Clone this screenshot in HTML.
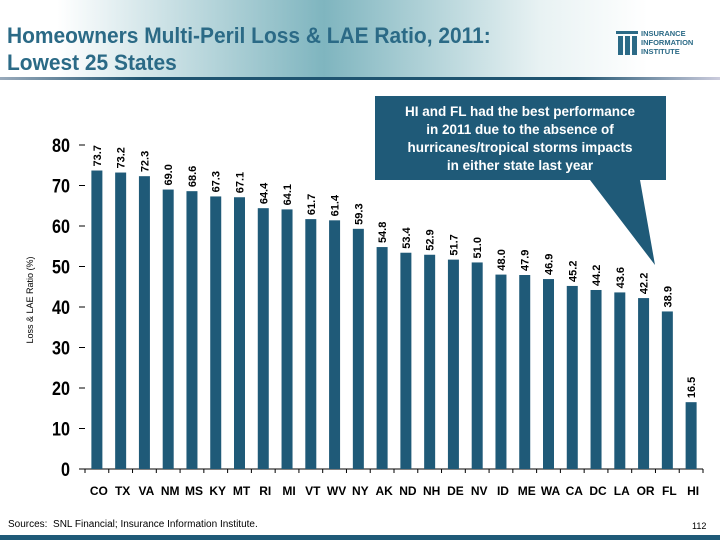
<!DOCTYPE html>
<html><head><meta charset="utf-8"><style>
body{margin:0;width:720px;height:540px;overflow:hidden;background:#fff;font-family:"Liberation Sans",sans-serif;position:relative}
#hdr{position:absolute;left:0;top:0;width:720px;height:78px;background:linear-gradient(90deg,#fff 0%,#fff 8%,#7fb5bf 45%,#e8f2f3 75%,#fff 90%)}
#hline{position:absolute;left:0;top:77px;width:720px;height:3px;background:linear-gradient(90deg,#9ab 0%,#1f5470 20%,#1f5470 80%,#ccd 100%)}
#title{position:absolute;left:7px;top:22px;font-size:22.5px;font-weight:bold;color:#2b6a86;line-height:27px;transform:scaleX(0.93);transform-origin:left}
#logo{position:absolute;left:614px;top:27px;width:100px;height:30px}
#foot{position:absolute;left:0;top:535px;width:720px;height:5px;background:#1f5a78}
#src{position:absolute;left:8px;top:519px;font-size:10px;color:#000}
#pg{position:absolute;left:692px;top:521px;font-size:9px}
</style></head><body>
<div id="hdr"></div>
<div id="hline"></div>
<div id="title">Homeowners Multi-Peril Loss &amp; LAE Ratio, 2011:<br>Lowest 25 States</div>
<svg id="logo" viewBox="0 0 100 30">
<g fill="#2b6a86"><rect x="2" y="4" width="22" height="3"/><rect x="4" y="9" width="5" height="19"/><rect x="11" y="9" width="5" height="19"/><rect x="18" y="9" width="5" height="19"/></g>
<text x="27" y="9" font-size="7.5" font-weight="bold" fill="#2b6a86" font-family="Liberation Sans">INSURANCE</text>
<text x="27" y="18" font-size="7.5" font-weight="bold" fill="#2b6a86" font-family="Liberation Sans">INFORMATION</text>
<text x="27" y="27" font-size="7.5" font-weight="bold" fill="#2b6a86" font-family="Liberation Sans">INSTITUTE</text>
</svg>
<svg id="chart" width="720" height="540" style="position:absolute;left:0;top:0"></svg>
<div id="src">Sources:&nbsp; SNL Financial; Insurance Information Institute.</div>
<div id="pg">112</div>
<div id="foot"></div>
<script>
const categories=["CO","TX","VA","NM","MS","KY","MT","RI","MI","VT","WV","NY","AK","ND","NH","DE","NV","ID","ME","WA","CA","DC","LA","OR","FL","HI"].slice(0,25);
const cats=["CO","TX","VA","NM","MS","KY","MT","RI","MI","VT","WV","NY","AK","ND","NH","DE","NV","ID","ME","WA","CA","DC","LA","OR","FL","HI"];
const values=[73.7,73.2,72.3,69.0,68.6,67.3,67.1,64.4,64.1,61.7,61.4,59.3,54.8,53.4,52.9,51.7,51.0,48.0,47.9,46.9,45.2,44.2,43.6,42.2,38.9,16.5];
const yTicks=[0,10,20,30,40,50,60,70,80];
const NS="http://www.w3.org/2000/svg";
const svg=document.getElementById('chart');
const x0=85,x1=703,yb=469,yt=145,ymax=80;
const step=(x1-x0)/cats.length;
const X=i=>x0+step*(i+0.5);
const Y=v=>yb-(v/ymax)*(yb-yt);
function mk(t,a){const e=document.createElementNS(NS,t);for(const k in a)e.setAttribute(k,a[k]);svg.appendChild(e);return e;}
let ax=mk('line',{x1:x0,y1:yb,x2:x1,y2:yb,stroke:'#000'});


for(let i=0;i<=cats.length;i++){const tk=mk('line',{x1:x0+step*i,y1:yb,x2:x0+step*i,y2:yb+4,stroke:'#000'});}
yTicks.forEach(v=>{
 const tk=mk('line',{x1:x0-6,y1:Y(v),x2:x0,y2:Y(v),stroke:'#000'});
 
 
 const t=mk('text',{x:70,y:Y(v)+7,'text-anchor':'end','font-size':'19','font-weight':'bold','font-family':'Liberation Sans',transform:`translate(70,0) scale(0.85,1) translate(-70,0)`});
 t.textContent=v;
 
 
});
cats.forEach((c,i)=>{
 const v=values[i];
 const b=mk('rect',{x:X(i)-5.5,y:Y(v),width:11,height:yb-Y(v),fill:'#1f5a78'});
 
 
 const vl=mk('text',{x:0,y:0,'font-size':'11','font-weight':'bold','font-family':'Liberation Sans',transform:`translate(${X(i)+4},${Y(v)-4}) rotate(-90)`});
 vl.textContent=v.toFixed(1);
 
 
 const cl=mk('text',{x:X(i)+2,y:495,'text-anchor':'middle','font-size':'12','font-weight':'bold','font-family':'Liberation Sans'});
 cl.textContent=c;
 
 
});
const yl=mk('text',{x:0,y:0,'font-size':'9','font-family':'Liberation Sans','text-anchor':'middle',transform:'translate(33,300) rotate(-90)'});
yl.textContent='Loss & LAE Ratio (%)';


const co=mk('path',{d:'M375 96 H666 V180 H640 L655 265 L590 180 H375 Z',fill:'#1f5a78'});


["HI and FL had the best performance","in 2011 due to the absence of","hurricanes/tropical storms impacts","in either state last year"].forEach((s,k)=>{
 const t=mk('text',{x:520,y:116+k*18,'text-anchor':'middle','font-size':'13.5','font-weight':'bold',fill:'#fff','font-family':'Liberation Sans'});
 t.textContent=s;
 
 
});
</script>
</body></html>
